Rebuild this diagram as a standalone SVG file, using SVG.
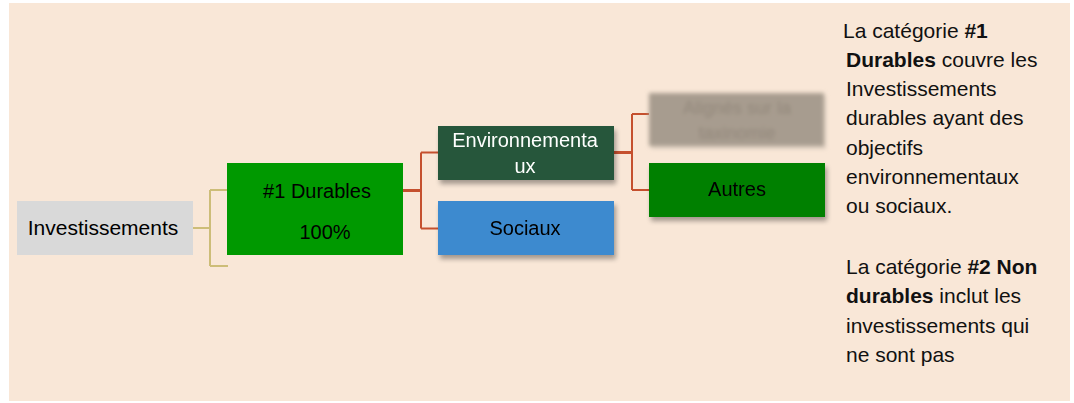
<svg xmlns="http://www.w3.org/2000/svg" width="1074" height="403" viewBox="0 0 1074 403">
  <style>
    .t { font-family: "Liberation Sans", Arial, sans-serif; font-size: 20px; text-anchor: middle; fill: #000; }
    .w { fill: #ffffff; }
    .side { font-family: "Liberation Sans", Arial, sans-serif; font-size: 21px; fill: #111; }
    .b { font-weight: bold; }
    .tan { fill: none; stroke: #cdbd78; stroke-width: 2; }
    .red { fill: none; stroke: #c5502e; stroke-width: 2; }
    .redtrunk { fill: none; stroke: #c5502e; stroke-width: 3; }
  </style>
  <defs>
    <filter id="shadow" x="-10%" y="-20%" width="125%" height="150%">
      <feGaussianBlur in="SourceAlpha" stdDeviation="2.5"/>
      <feOffset dx="2" dy="4" result="o"/>
      <feComponentTransfer><feFuncA type="linear" slope="0.35"/></feComponentTransfer>
      <feMerge><feMergeNode/><feMergeNode in="SourceGraphic"/></feMerge>
    </filter>
    <filter id="blur" x="-10%" y="-20%" width="125%" height="150%">
      <feGaussianBlur stdDeviation="2.2"/>
    </filter>
  </defs>

  <rect x="0" y="0" width="1074" height="403" fill="#ffffff"/>
  <rect id="background" x="9" y="3" width="1061" height="398" fill="#f9e7d7"/>

  <g id="connectors">
    <path class="tan" d="M193 228 H210 M210 190 V266 M210 190 H227 M210 266 H228"/>
    <path class="redtrunk" d="M403 190.5 H421"/>
    <path class="red" d="M421 152.5 V228.5 M421 152.5 H438 M421 228.5 H438"/>
    <path class="redtrunk" d="M614 152.5 H632"/>
    <path class="red" d="M632 114 V190 M632 114 H649 M632 190 H649"/>
  </g>

  <g id="node-investissements">
    <rect x="17" y="201" width="176" height="54" fill="#d9d9d9"/>
    <text class="t" x="103" y="235" style="font-size:21px">Investissements</text>
  </g>

  <g id="node-durables">
    <rect x="227" y="163" width="176" height="92" fill="#009900"/>
    <text class="t" x="317" y="198">#1 Durables</text>
    <text class="t" x="325" y="239">100%</text>
  </g>

  <g id="node-environnementaux" filter="url(#shadow)">
    <rect x="438" y="126" width="176" height="54" fill="#25573a"/>
    <text class="t w" x="525" y="147">Environnementa</text>
    <text class="t w" x="525" y="173">ux</text>
  </g>

  <g id="node-sociaux" filter="url(#shadow)">
    <rect x="438" y="201" width="176" height="54" fill="#3e8acf"/>
    <text class="t" x="525" y="235">Sociaux</text>
  </g>

  <g id="node-alignes">
    <g filter="url(#blur)">
      <rect x="651" y="96" width="175" height="53" fill="#cdbfb1" opacity="0.6"/>
      <rect x="649" y="93" width="175" height="53" fill="#a79c8f"/>
      <text class="t" x="737" y="114" style="font-size:18px;fill:#91867a">Alignés sur la</text>
      <text class="t" x="737" y="139" style="font-size:18px;fill:#91867a">taxinomie</text>
    </g>
  </g>

  <g id="node-autres" filter="url(#shadow)">
    <rect x="649" y="163" width="176" height="54" fill="#008000"/>
    <text class="t" x="737" y="196">Autres</text>
  </g>

  <g id="description">
    <text class="side" x="843" y="38">La catégorie <tspan class="b">#1</tspan></text>
    <text class="side" x="846" y="67"><tspan class="b">Durables</tspan> couvre les</text>
    <text class="side" x="846" y="96">Investissements</text>
    <text class="side" x="846" y="125">durables ayant des</text>
    <text class="side" x="846" y="155">objectifs</text>
    <text class="side" x="846" y="184">environnementaux</text>
    <text class="side" x="846" y="213">ou sociaux.</text>
    <text class="side" x="846" y="274">La catégorie <tspan class="b">#2 Non</tspan></text>
    <text class="side" x="846" y="303"><tspan class="b">durables</tspan> inclut les</text>
    <text class="side" x="846" y="333">investissements qui</text>
    <text class="side" x="846" y="362">ne sont pas</text>
  </g>
</svg>
